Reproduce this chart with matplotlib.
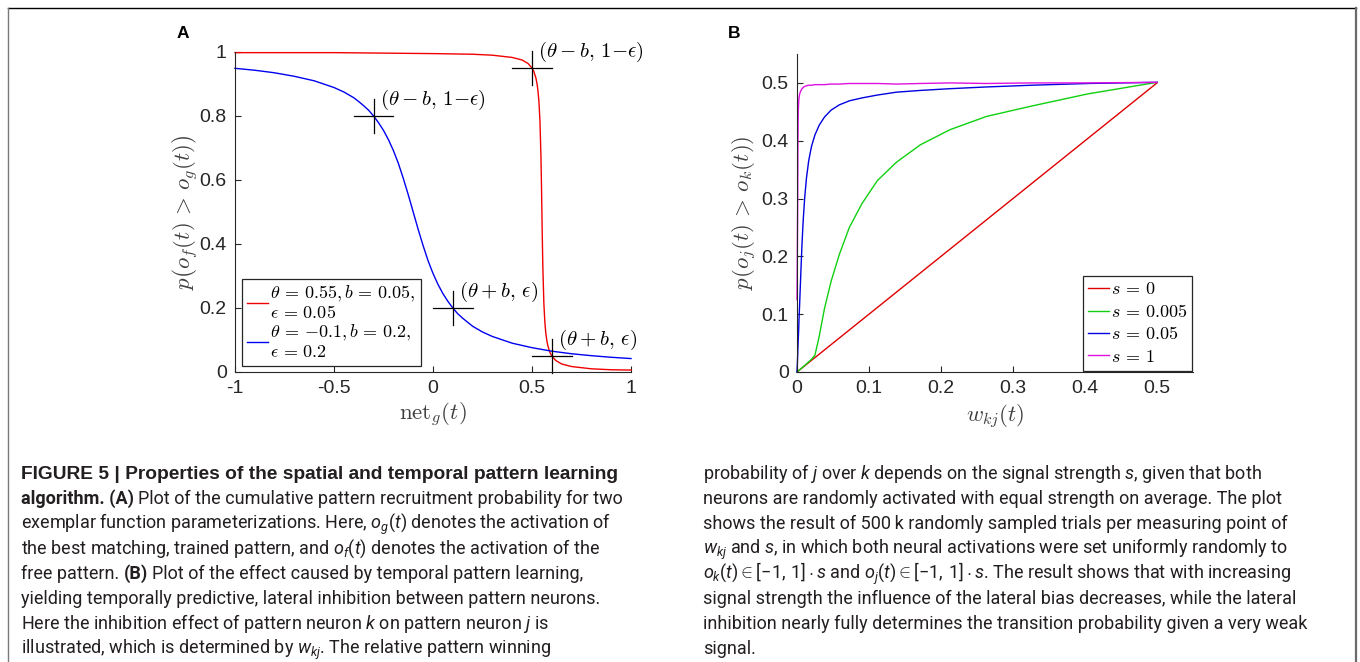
import matplotlib
matplotlib.use("Agg")
import matplotlib.pyplot as plt
from matplotlib import font_manager
from matplotlib.lines import Line2D

# ---------------- data: panel A ----------------
net_red = [-1, -0.5, 0, 0.2, 0.3, 0.4, 0.45, 0.48, 0.5, 0.51, 0.52, 0.525, 0.53, 0.535,
           0.54, 0.545, 0.548, 0.55, 0.552, 0.555, 0.56, 0.565, 0.57, 0.575, 0.58, 0.59,
           0.6, 0.62, 0.65, 0.7, 0.8, 0.9, 1.0]
p_red = [0.998, 0.998, 0.995, 0.993, 0.990, 0.983, 0.975, 0.964, 0.950, 0.938, 0.918,
         0.902, 0.880, 0.845, 0.787, 0.679, 0.579, 0.500, 0.421, 0.321, 0.213, 0.155,
         0.120, 0.098, 0.082, 0.062, 0.050, 0.036, 0.025, 0.017, 0.010, 0.007, 0.006]
net_blue = [-1, -0.9, -0.8, -0.7, -0.6, -0.5, -0.45, -0.4, -0.375, -0.35, -0.325, -0.3,
            -0.275, -0.25, -0.225, -0.2, -0.175, -0.15, -0.125, -0.1, -0.075, -0.05,
            -0.025, 0, 0.025, 0.05, 0.075, 0.1, 0.125, 0.15, 0.2, 0.25, 0.3, 0.4, 0.5,
            0.6, 0.7, 0.8, 0.9, 1.0]
p_blue = [0.949, 0.943, 0.935, 0.924, 0.910, 0.889, 0.875, 0.857, 0.845, 0.832, 0.818,
          0.800, 0.779, 0.755, 0.726, 0.692, 0.652, 0.605, 0.554, 0.500, 0.446, 0.395,
          0.348, 0.308, 0.274, 0.245, 0.221, 0.200, 0.182, 0.168, 0.143, 0.125, 0.111,
          0.090, 0.076, 0.065, 0.057, 0.051, 0.046, 0.042]
cross_x = [0.5, 0.6, -0.3, 0.1]
cross_y = [0.95, 0.05, 0.8, 0.2]
cross_labels = [r"$(\theta-b,\,1{-}\epsilon)$", r"$(\theta+b,\,\epsilon)$",
                r"$(\theta-b,\,1{-}\epsilon)$", r"$(\theta+b,\,\epsilon)$"]
legend_A = ["$\\theta\\,=\\,0.55, b\\,=\\,0.05,$\n$\\epsilon\\,=\\,0.05$",
            "$\\theta\\,=\\,{-}0.1, b\\,=\\,0.2,$\n$\\epsilon\\,=\\,0.2$"]
xticks_A = [-1, -0.5, 0, 0.5, 1]
xticklabels_A = ["-1", "-0.5", "0", "0.5", "1"]
yticks_A = [0, 0.2, 0.4, 0.6, 0.8, 1]
yticklabels_A = ["0", "0.2", "0.4", "0.6", "0.8", "1"]

# ---------------- data: panel B ----------------
w_kj = [0, 0.001, 0.00124, 0.00154, 0.0019, 0.00236, 0.0029, 0.0036, 0.0045, 0.0056,
        0.0069, 0.0085, 0.0106, 0.0131, 0.0162, 0.0201, 0.0249, 0.0309, 0.0382, 0.0474,
        0.0587, 0.0727, 0.0901, 0.1116, 0.1383, 0.1714, 0.2123, 0.2631, 0.326, 0.4039, 0.5]
p_s0 = [0, 0.001, 0.0012, 0.0015, 0.0019, 0.0024, 0.0029, 0.0036, 0.0045, 0.0056,
        0.0069, 0.0085, 0.0106, 0.0131, 0.0162, 0.0201, 0.0249, 0.0309, 0.0382, 0.0474,
        0.0587, 0.0727, 0.0901, 0.1116, 0.1383, 0.1714, 0.2123, 0.2631, 0.326, 0.4039, 0.5]
p_s0005 = [0, 0.001, 0.0013, 0.0016, 0.002, 0.0025, 0.003, 0.0038, 0.0047, 0.0059,
           0.0073, 0.009, 0.0112, 0.014, 0.0175, 0.022, 0.029, 0.062, 0.110, 0.157,
           0.203, 0.250, 0.291, 0.331, 0.363, 0.393, 0.419, 0.442, 0.460, 0.481, 0.501]
p_s005 = [0, 0.03, 0.04, 0.05, 0.06, 0.075, 0.095, 0.115, 0.145, 0.18,
          0.22, 0.26, 0.30, 0.335, 0.365, 0.39, 0.41, 0.427, 0.441, 0.453,
          0.462, 0.469, 0.474, 0.479, 0.484, 0.487, 0.490, 0.493, 0.496, 0.499, 0.501]
p_s1 = [0.125, 0.30, 0.38, 0.43, 0.455, 0.468, 0.475, 0.480, 0.484, 0.487,
        0.490, 0.492, 0.494, 0.495, 0.496, 0.496, 0.497, 0.497, 0.497, 0.498,
        0.498, 0.499, 0.499, 0.499, 0.498, 0.499, 0.500, 0.499, 0.500, 0.500, 0.501]
legend_B = [r"$s\,=\,0$", r"$s\,=\,0.005$", r"$s\,=\,0.05$", r"$s\,=\,1$"]
xticks_B = [0, 0.1, 0.2, 0.3, 0.4, 0.5]
xticklabels_B = ["0", "0.1", "0.2", "0.3", "0.4", "0.5"]
yticks_B = [0, 0.1, 0.2, 0.3, 0.4, 0.5]
yticklabels_B = ["0", "0.1", "0.2", "0.3", "0.4", "0.5"]

# ---------------- caption (segments: text, bold) ----------------
caption_left = [
    [("FIGURE 5 | Properties of the spatial and temporal pattern learning", True)],
    [("algorithm. (A)", True),
     ("Plot of the cumulative pattern recruitment probability for two", False)],
    [(r"exemplar function parameterizations. Here, $o_g(t)$ denotes the activation of", False)],
    [(r"the best matching, trained pattern, and $o_f(t)$ denotes the activation of the", False)],
    [("free pattern.", False), ("(B)", True),
     ("Plot of the effect caused by temporal pattern learning,", False)],
    [("yielding temporally predictive, lateral inhibition between pattern neurons.", False)],
    [(r"Here the inhibition effect of pattern neuron $k$ on pattern neuron $j$ is", False)],
    [(r"illustrated, which is determined by $w_{kj}$. The relative pattern winning", False)],
]
caption_right = [
    [(r"probability of $j$ over $k$ depends on the signal strength $s$, given that both", False)],
    [("neurons are randomly activated with equal strength on average. The plot", False)],
    [("shows the result of 500\u2009k randomly sampled trials per measuring point of", False)],
    [(r"$w_{kj}$ and $s$, in which both neural activations were set uniformly randomly to", False)],
    [(r"$o_k(t) \in [-1,\,1]\cdot s$ and $o_j(t) \in [-1,\,1]\cdot s$. The result shows that with increasing", False)],
    [("signal strength the influence of the lateral bias decreases, while the lateral", False)],
    [("inhibition nearly fully determines the transition probability given a very weak", False)],
    [("signal.", False)],
]

# ---------------- style ----------------
W, H = 1360, 662
names = {f.name for f in font_manager.fontManager.ttflist}
sans = "Liberation Sans"
plt.rcParams["mathtext.fontset"] = "cm"
plt.rcParams["font.family"] = [sans, "DejaVu Sans"]

AXC = "#262626"
tick_fs = 14
math_fs = 15
lab_fs = 16.5
leg_fs = 13

fig = plt.figure(figsize=(W / 100, H / 100), dpi=100)
fig.patch.set_facecolor("white")


def px_axes(x0, y0, x1, y1):
    return fig.add_axes([x0 / W, 1 - y1 / H, (x1 - x0) / W, (y1 - y0) / H])


def style_axes(ax):
    for side in ("top", "right"):
        ax.spines[side].set_visible(False)
    for side in ("left", "bottom"):
        ax.spines[side].set_color(AXC)
        ax.spines[side].set_linewidth(0.8)
    ax.tick_params(direction="in", length=4, width=0.8, colors=AXC,
                   labelsize=tick_fs, top=False, right=False)
    ax.tick_params(axis="x", pad=6)
    ax.tick_params(axis="y", pad=6)
    ax.set_facecolor("none")


# ---------------- panel A ----------------
axA = px_axes(235, 52, 631, 372)
lA1, = axA.plot(net_red, p_red, color="#f00000", lw=1.0, clip_on=False)
lA2, = axA.plot(net_blue, p_blue, color="#0000f0", lw=1.0, clip_on=False)
for cx, cy, lab in zip(cross_x, cross_y, cross_labels):
    axA.plot([cx - 0.1, cx + 0.1], [cy, cy], color="black", lw=0.9, clip_on=False)
    axA.plot([cx, cx], [cy - 0.052, cy + 0.052], color="black", lw=0.9, clip_on=False)
    axA.text(cx + 0.03, cy + 0.05, lab, fontsize=math_fs, ha="left", va="center",
             math_fontfamily="cm", color="black")
axA.set_xlim(-1, 1)
axA.set_ylim(0, 1)
axA.set_xticks(xticks_A)
axA.set_xticklabels(xticklabels_A)
axA.set_yticks(yticks_A)
axA.set_yticklabels(yticklabels_A)
style_axes(axA)
axA.set_xlabel(r"$\mathrm{net}_g(t)$", fontsize=lab_fs, color="#404040",
               math_fontfamily="cm", va="center")
axA.xaxis.set_label_coords(0.5, -0.134)
axA.set_ylabel(r"$p\left(o_f(t)\,>\,o_g(t)\right)$", fontsize=lab_fs, color="#404040",
               math_fontfamily="cm", va="center")
axA.yaxis.set_label_coords(-0.126, 0.5)
legA = axA.legend([lA1, lA2], legend_A, loc="upper left",
                  bbox_to_anchor=(242 / W, 1 - 279 / H), bbox_transform=fig.transFigure,
                  fontsize=leg_fs, frameon=True, fancybox=False, framealpha=1,
                  edgecolor=AXC, borderpad=0.3, handlelength=1.15, handletextpad=0.08,
                  labelspacing=0.05, borderaxespad=0)
legA.get_frame().set_linewidth(0.9)
for t in legA.get_texts():
    t.set_math_fontfamily("cm")
    t.set_linespacing(1.05)

# ---------------- panel B ----------------
axB = px_axes(797, 54, 1193, 372)
l1, = axB.plot(w_kj, p_s0, color="#e00000", lw=1.0, clip_on=False)
l2, = axB.plot(w_kj, p_s0005, color="#10d010", lw=1.0, clip_on=False)
l3, = axB.plot(w_kj, p_s005, color="#0000e0", lw=1.0, clip_on=False)
l4, = axB.plot(w_kj, p_s1, color="#e010e0", lw=1.0, clip_on=False)
axB.set_xlim(0, 0.55)
axB.set_ylim(0, 0.55)
axB.set_xticks(xticks_B)
axB.set_xticklabels(xticklabels_B)
axB.set_yticks(yticks_B)
axB.set_yticklabels(yticklabels_B)
style_axes(axB)
axB.set_xlabel(r"$w_{kj}(t)$", fontsize=lab_fs, color="#404040",
               math_fontfamily="cm", va="center")
axB.xaxis.set_label_coords(0.5, -0.14)
axB.set_ylabel(r"$p(o_j(t)\,>\,o_k(t))$", fontsize=lab_fs, color="#404040",
               math_fontfamily="cm", va="center")
axB.yaxis.set_label_coords(-0.131, 0.5)
legB = axB.legend([l1, l2, l3, l4], legend_B, loc="upper left",
                  bbox_to_anchor=(1083 / W, 1 - 276 / H), bbox_transform=fig.transFigure,
                  fontsize=leg_fs, frameon=True, fancybox=False, framealpha=1,
                  edgecolor=AXC, borderpad=0.3, handlelength=1.15, handletextpad=0.08,
                  labelspacing=0.3, borderaxespad=0)
legB.get_frame().set_linewidth(0.9)
for t in legB.get_texts():
    t.set_math_fontfamily("cm")

# ---------------- panel letters ----------------
fig.text(176.5 / W, 1 - 34 / H, "A", fontsize=12.5, fontweight="bold", va="center",
         ha="left", family=sans)
fig.text(728 / W, 1 - 34 / H, "B", fontsize=12.5, fontweight="bold", va="center",
         ha="left", family=sans)

# ---------------- caption ----------------
fig.canvas.draw()
r = fig.canvas.get_renderer()


def text_width(s, size, family, weight="normal"):
    tp = fig.text(0, 0, s, fontsize=size, family=family, fontweight=weight,
                  math_fontfamily="custom")
    wdt = tp.get_window_extent(r).width
    tp.remove()
    return wdt


# narrowest Helvetica-like regular face available, sized to the reference line lengths
probe = caption_left[5][0][0]
cap_font, cap_size = sans, None
for cand in ["Liberation Sans Narrow", "Roboto", "Lato", "Liberation Sans"]:
    if cand not in names:
        continue
    size = 13 * (609 - 20.7) / text_width(probe, 13, cand)
    if cap_size is None or size > cap_size + 0.3:
        cap_font, cap_size = cand, size
plt.rcParams["mathtext.rm"] = cap_font
plt.rcParams["mathtext.it"] = cap_font + ":italic"
plt.rcParams["mathtext.bf"] = cap_font + ":bold"
plain_refs = [(caption_left[5][0][0], 609 - 20.7), (caption_right[1][0][0], 1285 - 703),
              (caption_right[5][0][0], 1286 - 703)]
cap_size = sum(13 * tw / text_width(s, 13, cap_font) for s, tw in plain_refs) / len(plain_refs)

# bold title line in a Helvetica-like bold, fitted to the reference line length
title = caption_left[0][0][0]
title_target = 615 - 20.7
title_font = sans
title_size = cap_size * title_target / text_width(title, cap_size, title_font, "bold")

space_w = text_width("a a", cap_size, cap_font) - text_width("aa", cap_size, cap_font)

cap_color = "#231f20"
baselines = [479, 504, 529, 554, 579, 604, 629, 654]


def draw_line(x_px, y_px, segs, first_title=False):
    x = x_px
    for k, (s, bold) in enumerate(segs):
        if first_title:
            fam, size = title_font, title_size
        else:
            fam, size = cap_font, cap_size
        t = fig.text(x / W, 1 - y_px / H, s, fontsize=size, family=fam,
                     fontweight="bold" if bold else "normal", va="baseline", ha="left",
                     color=cap_color, math_fontfamily="custom")
        x += t.get_window_extent(r).width + space_w


for i, (segs, yb) in enumerate(zip(caption_left, baselines)):
    draw_line(20.7, yb, segs, first_title=(i == 0))
for segs, yb in zip(caption_right, baselines):
    draw_line(703, yb, segs)

# ---------------- frame ----------------
fig.add_artist(Line2D([8 / W, 1356 / W], [1 - 8 / H, 1 - 8 / H], color="black", lw=1.0,
                      transform=fig.transFigure))
fig.add_artist(Line2D([8 / W, 8 / W], [1 - 8 / H, 0], color="#7a7a7a", lw=1.0,
                      transform=fig.transFigure))
fig.add_artist(Line2D([1355.5 / W, 1355.5 / W], [1 - 8 / H, 0], color="#6a6a6a", lw=1.6,
                      transform=fig.transFigure))

fig.savefig("out.png", dpi=100, facecolor="white")
